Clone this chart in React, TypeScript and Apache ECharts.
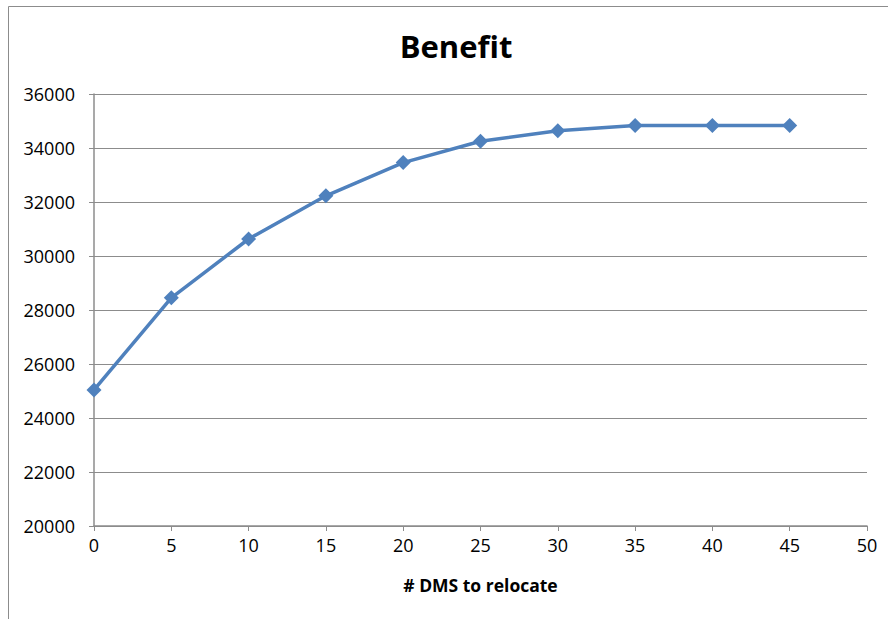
import React, { useEffect, useRef } from "react";
import * as echarts from "echarts";

const xValues = [0, 5, 10, 15, 20, 25, 30, 35, 40, 45];
const benefit = [25040, 28450, 30630, 32230, 33460, 34250, 34640, 34830, 34830, 34830];
const titleText = "Benefit";
const xAxisName = "# DMS to relocate";

export default function App() {
  const ref = useRef<HTMLDivElement>(null);
  useEffect(() => {
    if (!ref.current) return;
    const chart = echarts.init(ref.current, undefined, { renderer: "svg" });
    const font = "'Open Sans', 'Noto Sans', sans-serif";
    chart.setOption({
      animation: false,
      backgroundColor: "#ffffff",
      title: {
        text: titleText,
        left: 451,
        top: 25,
        textAlign: "center",
        textStyle: { fontFamily: font, fontSize: 31, fontWeight: "bold", color: "#000" },
      },
      graphic: [
        {
          type: "polyline",
          shape: { points: [[8.5, 700], [8.5, 6.5], [900, 6.5]] },
          style: { stroke: "#8c8c8c", lineWidth: 1, fill: "none" },
        },
      ],
      grid: { left: 94, right: 21, top: 94, bottom: 93 },
      xAxis: {
        type: "value",
        min: 0,
        max: 50,
        interval: 5,
        name: xAxisName,
        nameLocation: "middle",
        nameGap: 50,
        nameTextStyle: { fontFamily: font, fontSize: 17.5, fontWeight: "bold", color: "#000" },
        axisLine: { show: true, lineStyle: { color: "#8c8c8c", width: 1.5 } },
        axisTick: { show: true, length: 5, lineStyle: { color: "#8c8c8c" } },
        axisLabel: { fontFamily: font, fontSize: 18, color: "#000", margin: 10 },
        splitLine: { show: false },
      },
      yAxis: {
        type: "value",
        min: 20000,
        max: 36000,
        interval: 2000,
        axisLine: { show: true, lineStyle: { color: "#8c8c8c", width: 1.5 } },
        axisTick: { show: true, length: 5, lineStyle: { color: "#8c8c8c" } },
        axisLabel: {
          fontFamily: font,
          fontSize: 18,
          color: "#000",
          margin: 19,
          formatter: (v: number) => String(v),
        },
        splitLine: { show: true, lineStyle: { color: "#8c8c8c", width: 1 } },
      },
      series: [
        {
          type: "line",
          data: xValues.map((x, i) => [x, benefit[i]]),
          symbol: "diamond",
          symbolSize: 15,
          lineStyle: { color: "#4f81bd", width: 3.5 },
          itemStyle: { color: "#4f81bd" },
        },
      ],
    });
    return () => chart.dispose();
  }, []);
  return (
    <div
      ref={ref}
      style={{ position: "fixed", left: 0, top: 0, width: 888, height: 619 }}
    />
  );
}
